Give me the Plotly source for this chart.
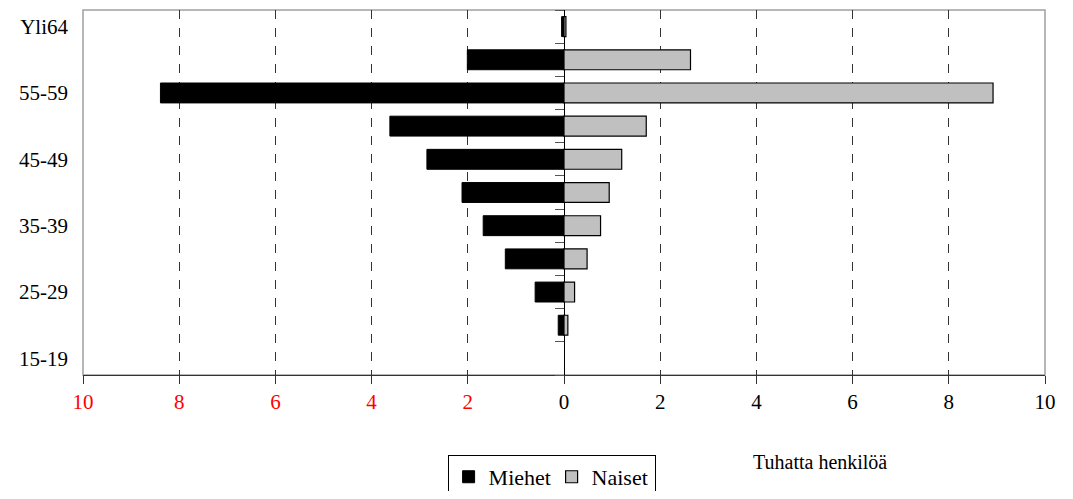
import plotly.graph_objects as go

# age groups, bottom to top
ages = ['15-19', '20-24', '25-29', '30-34', '35-39', '40-44',
        '45-49', '50-54', '55-59', '60-64', 'Yli64']
# thousands of persons
miehet = [None, 0.12, 0.60, 1.22, 1.68, 2.12, 2.85, 3.62, 8.39, 2.01, 0.05]
naiset = [None, 0.08, 0.22, 0.48, 0.76, 0.94, 1.20, 1.71, 8.92, 2.63, 0.04]
shown_ages = ['15-19', '25-29', '35-39', '45-49', '55-59', 'Yli64']
x_ticks = [-10, -8, -6, -4, -2, 0, 2, 4, 6, 8, 10]

SERIF = 'Times New Roman'

tick_text = []
for v in x_ticks:
    if v < 0:
        tick_text.append('<span style="color:#FF0000">%d</span>' % abs(v))
    else:
        tick_text.append(str(v))

fig = go.Figure()
fig.add_trace(go.Bar(
    y=ages, x=[-v if v is not None else None for v in miehet],
    orientation='h', name='Miehet',
    marker=dict(color='black', line=dict(color='black', width=1)),
    hoverinfo='skip'))
fig.add_trace(go.Bar(
    y=ages, x=naiset, orientation='h', name='Naiset',
    marker=dict(color='#C0C0C0', line=dict(color='black', width=1.2)),
    hoverinfo='skip'))
# invisible helper so the tick marks along the zero line can be drawn
fig.add_trace(go.Scatter(
    y=ages, x=[0] * len(ages), yaxis='y2', mode='markers',
    marker=dict(opacity=0), showlegend=False, hoverinfo='skip'))

# page body adds an 8px margin, so the figure is a bit smaller than the window
fig.update_layout(
    width=1057, height=483,
    barmode='overlay', bargap=0.4,
    plot_bgcolor='white', paper_bgcolor='white',
    font=dict(family=SERIF, size=21, color='black'),
    margin=dict(l=75, r=20, t=2, b=116, autoexpand=False),
    legend=dict(orientation='h', x=0.379, y=-0.219, xanchor='left', yanchor='top',
                bordercolor='black', borderwidth=1, bgcolor='white',
                font=dict(family=SERIF, size=22, color='black'),
                entrywidth=58, itemwidth=30, tracegroupgap=0),
    shapes=[dict(type='rect', xref='paper', yref='paper', x0=0, x1=1, y0=0, y1=1,
                 line=dict(color='#A0A0A0', width=1.5), layer='below')],
    annotations=[dict(text='Tuhatta henkilöä', xref='paper', yref='paper',
                      x=0.766, y=-0.238, xanchor='center', yanchor='middle',
                      showarrow=False,
                      font=dict(family=SERIF, size=20, color='black'))],
)
fig.update_xaxes(
    range=[-10, 10], tickvals=x_ticks, ticktext=tick_text,
    showgrid=True, gridcolor='#333333', gridwidth=1, griddash='dash',
    zeroline=True, zerolinecolor='black', zerolinewidth=1,
    showline=True, linecolor='#333333', linewidth=1,
    ticks='outside', ticklen=8, tickcolor='#333333',
    tickfont=dict(family=SERIF, size=21))
fig.update_yaxes(
    type='category', categoryorder='array', categoryarray=ages,
    range=[-0.5, 10.5], tickvals=shown_ages, showgrid=False, zeroline=False,
    ticks='', ticklabelstandoff=14, tickfont=dict(family=SERIF, size=21))
fig.update_layout(yaxis2=dict(
    overlaying='y', anchor='free', position=0.5, side='left',
    type='category', categoryorder='array', categoryarray=ages,
    range=[-0.5, 10.5], tickson='boundaries', ticks='outside', ticklen=9,
    tickcolor='#555555', showticklabels=False, showgrid=False,
    zeroline=False, showline=False))

fig.write_html('out.html')
